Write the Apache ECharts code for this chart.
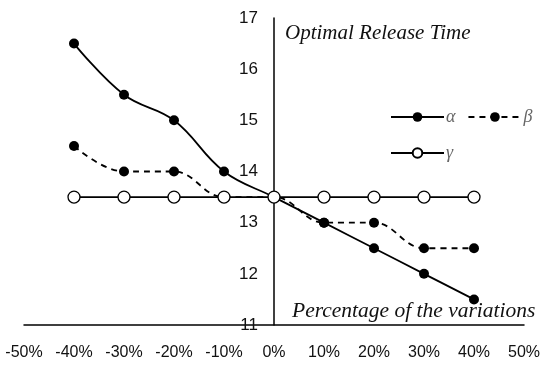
<!DOCTYPE html>
<html><head><meta charset="utf-8">
<script src="https://cdn.jsdelivr.net/npm/echarts@6/dist/echarts.min.js"></script>
<style>html,body{margin:0;padding:0;background:#fff}#c{width:550px;height:376px}</style>
</head><body><div id="c"></div>
<script>
const xValues = [-40, -30, -20, -10, 0, 10, 20, 30, 40];
const alphaValues = [16.5, 15.5, 15.0, 14.0, 13.5, 13.0, 12.5, 12.0, 11.5];
const betaValues  = [14.5, 14.0, 14.0, 13.5, 13.5, 13.0, 13.0, 12.5, 12.5];
const gammaValues = [13.5, 13.5, 13.5, 13.5, 13.5, 13.5, 13.5, 13.5, 13.5];
const yTitle = 'Optimal Release Time';
const xTitle = 'Percentage of the variations';

const pairs = v => xValues.map((x, i) => [x, v[i]]);
const chart = echarts.init(document.getElementById('c'));
const labelFont = {fontFamily: 'Liberation Sans', fontSize: 16, color: '#111'};
chart.setOption({
  animation: false,
  grid: {left: 24, right: 26, top: 18, bottom: 51, outerBoundsMode: 'none', containLabel: false},
  xAxis: {
    type: 'value', min: -50, max: 50, interval: 10,
    axisLine: {onZero: false, lineStyle: {color: '#000', width: 1.5}},
    axisTick: {show: false}, splitLine: {show: false},
    axisLabel: Object.assign({formatter: v => v + '%', margin: 20}, labelFont)
  },
  yAxis: {
    type: 'value', min: 11, max: 17, interval: 1, position: 'left', offset: -250,
    axisLine: {show: true, onZero: false, lineStyle: {color: '#000', width: 1.5}},
    axisTick: {show: false}, splitLine: {show: false},
    axisLabel: Object.assign({margin: 16}, labelFont, {fontSize: 17})
  },
  legend: [
    {data: ['α', 'β'], left: 385, top: 103, itemWidth: 53, itemHeight: 12, itemGap: 12,
     textStyle: {fontFamily: 'Liberation Serif', fontStyle: 'italic', fontSize: 18, color: '#666', padding: [0,0,0,-3]}},
    {data: ['γ'], left: 385, top: 139, itemWidth: 53, itemHeight: 12,
     textStyle: {fontFamily: 'Liberation Serif', fontStyle: 'italic', fontSize: 18, color: '#666', padding: [0,0,0,-3]}}
  ],
  graphic: [
    {type: 'text', left: 285, top: 23, style: {text: yTitle, font: 'italic 21px "Liberation Serif"', fill: '#111'}},
    {type: 'text', left: 292, top: 300, style: {text: xTitle, font: 'italic 21.5px "Liberation Serif"', fill: '#111'}}
  ],
  series: [
    {name: 'β', type: 'line', data: pairs(betaValues), smooth: 0.4, symbol: 'circle', symbolSize: 10,
     lineStyle: {color: '#000', width: 1.8, type: [6, 5]}, itemStyle: {color: '#000'}, z: 4},
    {name: 'α', type: 'line', data: pairs(alphaValues), smooth: 0.4, symbol: 'circle', symbolSize: 10,
     lineStyle: {color: '#000', width: 1.8}, itemStyle: {color: '#000'}, z: 5},
    {name: 'γ', type: 'line', data: pairs(gammaValues), symbol: 'circle', symbolSize: 12,
     lineStyle: {color: '#000', width: 1.8}, itemStyle: {color: '#fff', borderColor: '#000', borderWidth: 1.3}, z: 6}
  ]
});
</script></body></html>
